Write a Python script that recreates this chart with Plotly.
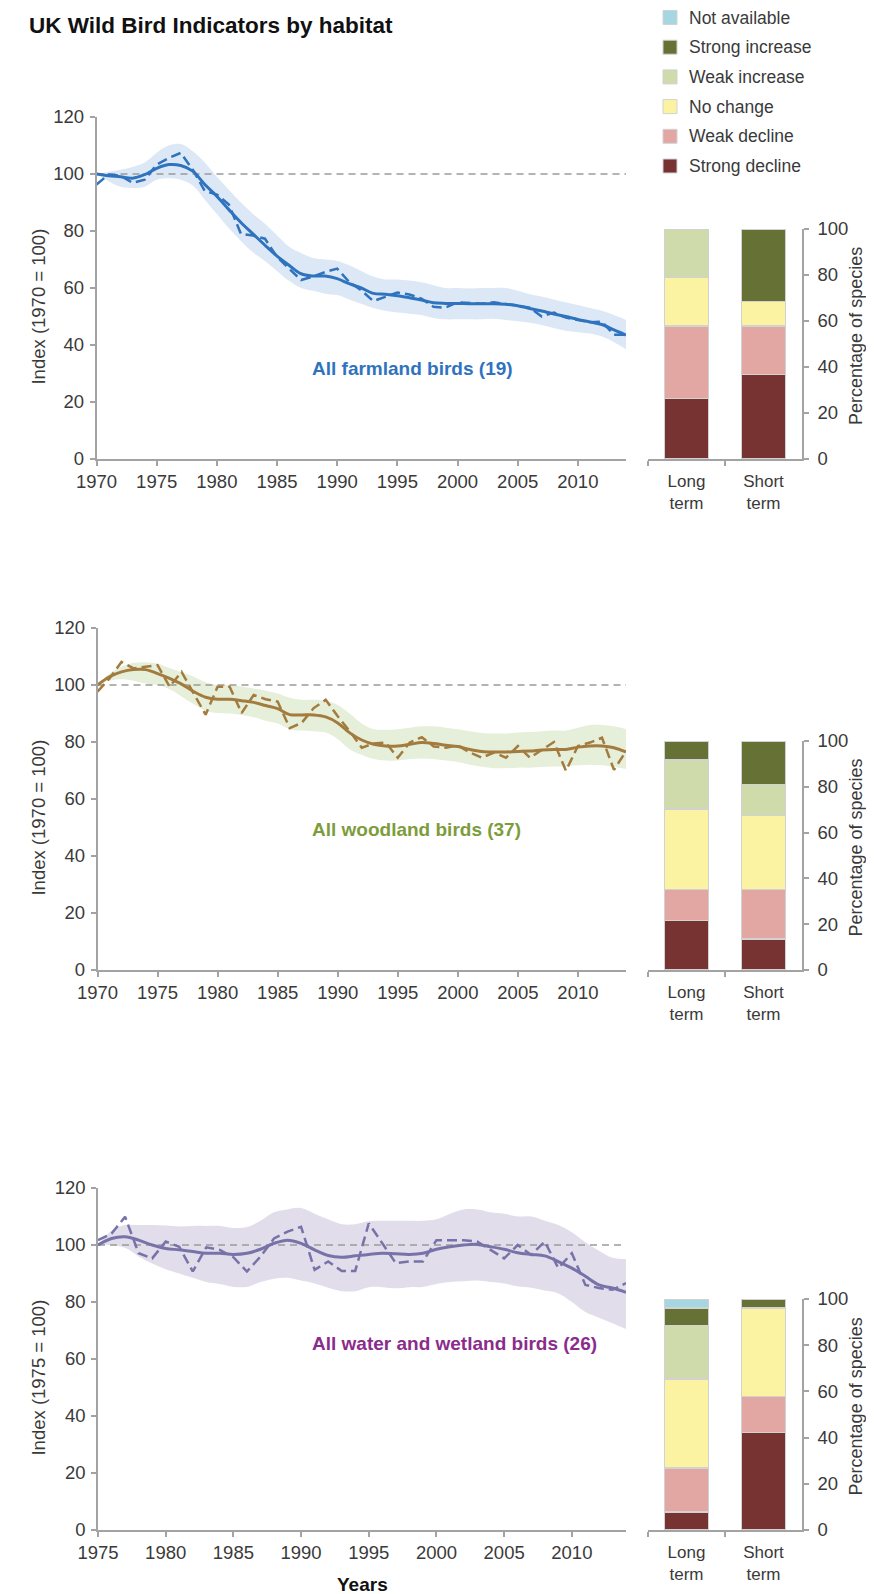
import plotly.graph_objects as go

# ---------------- DATA ----------------
years_farm = list(range(1970, 2015))
farm_smooth = [100, 99.4, 99, 98.5, 99.8, 102, 103.3, 103, 101, 96.3, 92.2, 87.5, 83, 79, 75, 71.2,
               68, 65, 64.2, 64.2, 63.3, 61.5, 60, 58.1, 57.8, 57.3, 56.6, 55.8, 54.8, 54.6, 54.6,
               54.5, 54.5, 54.5, 54.3, 53.8, 52.8, 51.9, 50.9, 50, 49, 48.1, 47.2, 45.3, 43.5]
farm_index = [96.3, 99.8, 99.4, 96.9, 98, 103.3, 105.6, 107.4, 101.5, 94, 92.8, 89.3, 79, 78.4, 77.3,
              70.9, 66.8, 62.8, 64, 65.6, 66.8, 62.1, 59.2, 55.4, 56.9, 58.4, 57.7, 56.3, 53.4, 53.1,
              55, 54.7, 54.5, 55, 54.5, 53.8, 53.1, 50, 51.4, 49.6, 48.8, 48, 48.2, 43.6, 43.6]
farm_upper = [100, 100.8, 101.5, 102.5, 104, 107.5, 110, 110.5, 108, 104, 99, 94.5, 90, 86, 82.5, 78.5,
              74.5, 72.3, 70.5, 70, 69.5, 68, 66, 64, 63, 63, 62.6, 62, 61, 60, 60, 59.8, 60, 60, 60,
              59, 57.8, 57, 56, 55, 54, 53, 52, 50.5, 48.8]
farm_lower = [100, 97.5, 95.5, 95, 95.5, 98, 98.5, 98, 96, 91, 86, 81, 76.5, 72.5, 69.5, 66, 62.5, 60,
              59, 58, 57.5, 56, 54.5, 53, 52, 51.4, 51, 50.5, 49.5, 49, 49, 49, 49, 49.2, 48.8, 48.3,
              47.8, 47, 46, 45, 44.5, 44, 43, 41, 38.5]

years_wood = list(range(1970, 2015))
wood_smooth = [100, 102.9, 104.6, 105.4, 105.4, 104, 102.3, 100.3, 97.7, 95.7, 95, 95, 94.5, 93.9, 92.8,
               91.7, 89.6, 89.5, 89.5, 88.8, 86.7, 83.2, 80.7, 79.2, 78.6, 78.6, 79.2, 79.8, 79.5, 78.9,
               78.4, 77.4, 76.7, 76.5, 76.5, 76.7, 76.8, 77.2, 77.4, 77.4, 78.2, 78.6, 78.6, 78, 76.5]
wood_index = [97.7, 102.3, 108.1, 105.8, 106.4, 107, 99.4, 104.6, 97.1, 89.6, 99.4, 99.4, 90.2, 96.5, 95,
              94.2, 84.9, 86.7, 91.9, 94.8, 89, 83.8, 78, 79.5, 79.8, 74.5, 79.8, 81.7, 78.4, 78, 78.8,
              76.3, 74.5, 76.3, 74.5, 78.6, 74.5, 77.4, 80, 69.9, 78.6, 79.8, 81.5, 70.2, 76.8]
wood_upper = [100, 104, 106.5, 107.8, 108, 107.5, 106, 104.5, 103, 101, 100, 100, 99.5, 98.8, 98, 97,
              95.5, 94.8, 94.8, 94.5, 93, 90, 86.5, 84.5, 84.3, 84.5, 85, 85.5, 85.5, 85, 84.5, 83.8,
              83.2, 83, 83, 83.3, 83.5, 83.8, 84, 84, 85, 86, 86, 85.5, 84.5]
wood_lower = [100, 101.5, 102, 101.5, 100.5, 100, 98.5, 96, 93.3, 91, 90.2, 90, 89.5, 88.7, 87.5, 86.5,
              84.5, 84, 83.8, 83.3, 81, 77.5, 75.5, 74, 73.5, 73.5, 74, 74.2, 74, 73.5, 73, 72, 71.3,
              70.8, 70.8, 71, 71, 71.2, 71.4, 71.4, 71.8, 72, 71.8, 71.2, 70.5]

years_water = list(range(1975, 2015))
water_smooth = [100, 102.3, 102.9, 101.7, 100, 98.8, 98.3, 97.7, 97.1, 97.1, 96.7, 97.1, 98.5, 100.6,
                101.7, 100.6, 98.3, 96.3, 95.7, 96.2, 96.7, 97.1, 96.9, 96.7, 97.1, 98.5, 99.4, 100,
                100.2, 99.4, 98.5, 97.3, 96.7, 96.2, 94.2, 91.9, 89, 86, 84.9, 83.4]
water_index = [101.7, 104, 109.9, 97.1, 95.3, 101.2, 99.4, 90.7, 99.2, 98.3, 95.7, 90.7, 95.9, 102.3,
               104.7, 106.4, 91.3, 94.2, 90.9, 90.9, 107.6, 100.6, 93.6, 94.2, 94.2, 101.7, 101.7,
               101.7, 101.2, 98.3, 95.3, 100, 96.5, 101.2, 91.9, 97.1, 86, 84.9, 84.3, 86.6]
water_upper = [100, 105, 107, 107, 107, 106.8, 106.5, 106.7, 106.7, 106.7, 106, 106.3, 108.5, 111.5,
               112.5, 113, 111, 109, 107.3, 107.3, 108.3, 108.5, 108.5, 108.5, 108.5, 109, 111, 112.5,
               112.5, 111.5, 111, 110, 110, 108.5, 107, 104.5, 101, 98, 95.5, 95]
water_lower = [100, 100, 99, 96, 93.5, 91.5, 90, 88.5, 87, 86.3, 85.3, 85.3, 87, 88.2, 88.5, 87.5, 86.5,
               85, 83.8, 83.8, 85.2, 85.2, 84.8, 85.2, 85.3, 86.3, 87, 87.3, 87.5, 87, 86.5, 85.5, 85,
               84, 83, 80, 76.5, 74.5, 72.5, 70.5]

categories = ["Strong decline", "Weak decline", "No change", "Weak increase", "Strong increase",
              "Not available"]
cat_colors = ["#773331", "#e2a7a3", "#fcf3a2", "#cfdbab", "#667235", "#a6d6e2"]
terms = ["Long<br>term", "Short<br>term"]

# percentage of species per category (same order as categories)
farm_long = [26.3, 31.6, 21.1, 21.1, 0, 0]
farm_short = [36.8, 21.1, 10.5, 0, 31.6, 0]
wood_long = [21.6, 13.5, 35.1, 21.6, 8.1, 0]
wood_short = [13.5, 21.6, 32.4, 13.5, 18.9, 0]
water_long = [7.7, 19.2, 38.5, 23.1, 7.7, 3.8]
water_short = [42.3, 15.4, 38.5, 0, 3.8, 0]

labels = ["All farmland birds (19)", "All woodland birds (37)", "All water and wetland birds (26)"]
ytitles = ["Index (1970 = 100)", "Index (1970 = 100)", "Index (1975 = 100)"]

# ---------------- STYLE ----------------
# The page body adds an 8px margin, so the figure is sized to fill the window exactly.
OFF = 8
W, H = 874 - OFF, 1594 - OFF
REG = "Liberation Sans, Arial, Helvetica, sans-serif"
BOLD = "Liberation Sans, Arial, Helvetica, sans-serif"
TXT = "#3a3a3a"
AX = "#a3a3a3"
TICK = 18.5

panels = [
    dict(years=years_farm, smooth=farm_smooth, index=farm_index, upper=farm_upper, lower=farm_lower,
         long=farm_long, short=farm_short, line="#2f73bf", band="#dde8f6", lab="#2f73bf",
         top=117, bot=459, bartop=229, xl=96.5, laby=369),
    dict(years=years_wood, smooth=wood_smooth, index=wood_index, upper=wood_upper, lower=wood_lower,
         long=wood_long, short=wood_short, line="#a37b3e", band="#e6efd9", lab="#7d9c3c",
         top=628, bot=970, bartop=741, xl=97.5, laby=829),
    dict(years=years_water, smooth=water_smooth, index=water_index, upper=water_upper, lower=water_lower,
         long=water_long, short=water_short, line="#7773a9", band="#e1ddeb", lab="#8b2c8c",
         top=1188, bot=1530, bartop=1299, xl=98, laby=1343),
]

def pxx(px):
    return (px - OFF) / W

def py(px):
    return 1 - (px - OFF) / H

fig = go.Figure()
annotations = []
shapes = []
layout = {}

for i, p in enumerate(panels):
    lx = "x" if i == 0 else f"x{2*i+1}"
    ly = "y" if i == 0 else f"y{2*i+1}"
    bx = f"x{2*i+2}"
    by = f"y{2*i+2}"
    yrs = p["years"]
    # confidence band
    fig.add_trace(go.Scatter(x=yrs, y=p["upper"], mode="lines", line=dict(width=0, shape="spline"),
                             hoverinfo="skip", showlegend=False, xaxis=lx, yaxis=ly))
    fig.add_trace(go.Scatter(x=yrs, y=p["lower"], mode="lines", line=dict(width=0, shape="spline"),
                             fill="tonexty", fillcolor=p["band"], hoverinfo="skip", showlegend=False,
                             xaxis=lx, yaxis=ly))
    # baseline reference at 100
    fig.add_trace(go.Scatter(x=[yrs[0], yrs[-1]], y=[100, 100], mode="lines",
                             line=dict(color="#9a9a9a", width=1.5, dash="7px,5px"),
                             hoverinfo="skip", showlegend=False, xaxis=lx, yaxis=ly))
    # unsmoothed index (dashed)
    fig.add_trace(go.Scatter(x=yrs, y=p["index"], mode="lines",
                             line=dict(color=p["line"], width=2.5, dash="10px,5px"),
                             showlegend=False, xaxis=lx, yaxis=ly))
    # smoothed trend
    fig.add_trace(go.Scatter(x=yrs, y=p["smooth"], mode="lines",
                             line=dict(color=p["line"], width=3, shape="spline"),
                             showlegend=False, xaxis=lx, yaxis=ly))
    # stacked bars
    for c, (cat, col) in enumerate(zip(categories, cat_colors)):
        fig.add_trace(go.Bar(x=terms, y=[p["long"][c], p["short"][c]], name=cat,
                             marker=dict(color=col, line=dict(color="#d2d2d2", width=1.5)),
                             showlegend=False, xaxis=bx, yaxis=by))

    key_lx = "xaxis" if i == 0 else f"xaxis{2*i+1}"
    key_ly = "yaxis" if i == 0 else f"yaxis{2*i+1}"
    common = dict(ticks="outside", ticklen=5, tickwidth=1.5, tickcolor=AX, showline=True,
                  linecolor=AX, linewidth=1.5, showgrid=False, zeroline=False, automargin=False)
    layout[key_lx] = dict(domain=[pxx(p["xl"]), pxx(626)], anchor=ly, range=[yrs[0], yrs[-1]],
                          tick0=yrs[0], dtick=5, tickfont=dict(family=REG, size=TICK, color=TXT),
                          ticklabelstandoff=0, **common)
    layout[key_ly] = dict(domain=[py(p["bot"]), py(p["top"])], anchor=lx, range=[0, 120], dtick=20,
                          tickfont=dict(family=REG, size=TICK, color=TXT), ticklabelstandoff=2, **common)
    layout[f"xaxis{2*i+2}"] = dict(domain=[pxx(648), pxx(802)], anchor=by, type="category",
                                   tickson="boundaries", ticklabelstandoff=6,
                                   tickfont=dict(family=REG, size=17, color=TXT), **common)
    layout[f"yaxis{2*i+2}"] = dict(domain=[py(p["bot"]), py(p["bartop"])], anchor=bx, side="right",
                                   range=[0, 100], dtick=20, ticklabelstandoff=5,
                                   tickfont=dict(family=REG, size=TICK, color=TXT), **common)
    # axis titles
    annotations.append(dict(text=ytitles[i], xref="paper", yref=ly, x=pxx(39), y=53.5, textangle=-90,
                            showarrow=False, xanchor="center", yanchor="middle",
                            font=dict(family=REG, size=18.5, color=TXT)))
    annotations.append(dict(text="Percentage of species", xref="paper", yref=by, x=pxx(856), y=53.5,
                            textangle=-90, showarrow=False, xanchor="center", yanchor="middle",
                            font=dict(family=REG, size=18, color=TXT)))
    annotations.append(dict(text=f"<b>{labels[i]}</b>", xref="paper", yref="paper", x=pxx(310),
                            y=py(p["laby"]), showarrow=False, xanchor="left", yanchor="middle",
                            font=dict(family=BOLD, size=19, color=p["lab"])))

# Title
annotations.append(dict(text="<b>UK Wild Bird Indicators by habitat</b>", xref="paper", yref="paper",
                        x=pxx(27), y=py(25.5), showarrow=False, xanchor="left", yanchor="middle",
                        font=dict(family=BOLD, size=22.5, color="#111111")))
# Years
annotations.append(dict(text="<b>Years</b>", xref="paper", yref="paper", x=pxx(362), y=py(1584),
                        showarrow=False, xanchor="center", yanchor="middle",
                        font=dict(family=BOLD, size=19, color="#111111")))

# Legend (top = last category)
for k, (cat, col) in enumerate(zip(reversed(categories), reversed(cat_colors))):
    cy = 17.5 + 29.7 * k
    shapes.append(dict(type="rect", xref="paper", yref="paper", x0=pxx(663), x1=pxx(677),
                       y0=py(cy + 7), y1=py(cy - 7), fillcolor=col, line=dict(color="#d2d2d2", width=1)))
    annotations.append(dict(text=cat, xref="paper", yref="paper", x=pxx(687), y=py(cy), showarrow=False,
                            xanchor="left", yanchor="middle", font=dict(family=REG, size=17.5, color=TXT)))

fig.update_layout(width=W, height=H, margin=dict(l=0, r=0, t=0, b=0, pad=0), autosize=False,
                  paper_bgcolor="white", plot_bgcolor="white", barmode="stack", bargap=0.43,
                  showlegend=False, annotations=annotations, shapes=shapes, **layout)

fig.write_html("out.html")
